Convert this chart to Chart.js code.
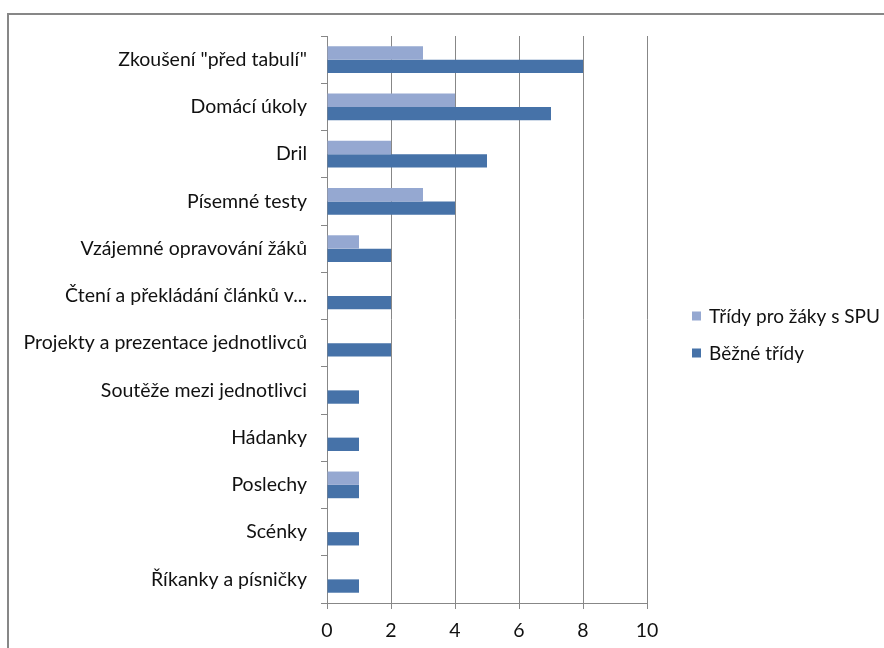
<!DOCTYPE html>
<html>
<head>
<meta charset="utf-8">
<script src="https://cdn.jsdelivr.net/npm/chart.js@4/dist/chart.umd.min.js"></script>
<style>
  html, body { margin: 0; padding: 0; background: #fff; overflow: hidden; }
  #frame { position: absolute; left: 7px; top: 13px; width: 1000px; height: 1000px; border: 2px solid #878787; }
  #wrap { position: absolute; left: 0; top: 0; width: 884px; height: 648px; }
</style>
</head>
<body>
<div id="frame"></div>
<div id="wrap"><canvas id="c" width="884" height="648"></canvas></div>
<script>
// Activities used in lessons, counted per class type
const categories = [
  'Zkoušení "před tabulí"',
  'Domácí úkoly',
  'Dril',
  'Písemné testy',
  'Vzájemné opravování žáků',
  'Čtení a překládání článků v...',
  'Projekty a prezentace jednotlivců',
  'Soutěže mezi jednotlivci',
  'Hádanky',
  'Poslechy',
  'Scénky',
  'Říkanky a písničky'
];
const seriesNames = ['Třídy pro žáky s SPU', 'Běžné třídy'];
const spuValues = [3, 4, 2, 3, 1, 0, 0, 0, 0, 1, 0, 0];
const regularValues = [8, 7, 5, 4, 2, 2, 2, 1, 1, 1, 1, 1];
const xTicks = [0, 2, 4, 6, 8, 10];

const FONT = 'Lato, "Open Sans", sans-serif';
const FONT_SIZE = 19.5;
const GRID = '#878787';

// Legend drawn beside the plot, one row per dataset
const sideLegend = {
  id: 'sideLegend',
  afterDraw(chart) {
    const ctx = chart.ctx;
    ctx.save();
    ctx.font = '19px ' + FONT;
    ctx.textBaseline = 'middle';
    chart.data.datasets.forEach((ds, i) => {
      const y = 316 + i * 37;
      ctx.fillStyle = ds.backgroundColor;
      ctx.fillRect(692, y - 4.5, 9, 9);
      ctx.fillStyle = '#111';
      ctx.fillText(ds.label, 709, y + 1);
    });
    ctx.restore();
  }
};

new Chart(document.getElementById('c'), {
  type: 'bar',
  data: {
    labels: categories,
    datasets: [
      { label: seriesNames[0], data: spuValues, backgroundColor: '#95A8D1', borderWidth: 0 },
      { label: seriesNames[1], data: regularValues, backgroundColor: '#4672A8', borderWidth: 0 }
    ]
  },
  options: {
    indexAxis: 'y',
    responsive: false,
    animation: false,
    devicePixelRatio: 1,
    layout: { padding: { top: 36, right: 237, bottom: 0, left: 0 } },
    categoryPercentage: 0.565,
    barPercentage: 1.0,
    plugins: { legend: { display: false }, tooltip: { enabled: false } },
    scales: {
      x: {
        min: 0, max: 10,
        afterBuildTicks(scale) { scale.ticks = xTicks.map(v => ({ value: v })); },
        afterFit(scale) { scale.height = 45; },
        grid: { color: GRID, lineWidth: 1, tickLength: 6, drawTicks: true },
        border: { color: GRID, width: 1 },
        ticks: { color: '#111', font: { family: FONT, size: FONT_SIZE }, padding: 10, maxRotation: 0 }
      },
      y: {
        afterFit(scale) { scale.width = 327; },
        grid: { drawOnChartArea: false, drawTicks: true, tickLength: 6, color: GRID, offset: true },
        border: { color: GRID, width: 1 },
        ticks: { color: '#111', font: { family: FONT, size: FONT_SIZE }, padding: 14, autoSkip: false }
      }
    }
  },
  plugins: [sideLegend]
});
</script>
</body>
</html>
